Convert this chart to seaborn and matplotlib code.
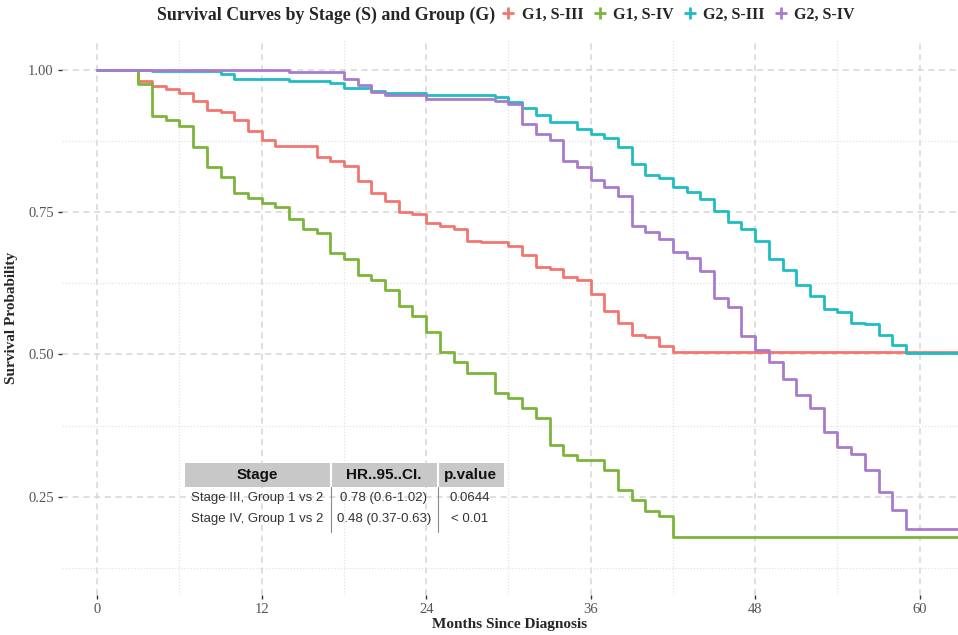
import pandas as pd
import matplotlib
matplotlib.use("Agg")
import matplotlib.pyplot as plt
import seaborn as sns
from matplotlib.lines import Line2D
from matplotlib.patches import Rectangle

# Kaplan-Meier step values (month of drop, survival after drop)
groups = ["G1, S-III", "G1, S-IV", "G2, S-III", "G2, S-IV"]
colors = ["#F3766E", "#7CB53A", "#1EBDC3", "#A97BCB"]

g1s3_time = [0, 3, 4, 5, 6, 7, 8, 9, 10, 11, 12, 13, 16, 17, 18, 19, 20, 21, 22, 23, 24,
             25, 26, 27, 28, 30, 31, 32, 33, 34, 35, 36, 37, 38, 39, 40, 41, 42, 63]
g1s3_surv = [1.0, 0.981, 0.972, 0.966, 0.960, 0.946, 0.930, 0.927, 0.912, 0.893, 0.877, 0.866,
             0.847, 0.841, 0.831, 0.805, 0.784, 0.770, 0.751, 0.747, 0.731, 0.726, 0.720, 0.699,
             0.697, 0.691, 0.675, 0.654, 0.650, 0.636, 0.631, 0.606, 0.576, 0.555, 0.535, 0.530,
             0.515, 0.505, 0.505]

g1s4_time = [0, 3, 4, 5, 6, 7, 8, 9, 10, 11, 12, 13, 14, 15, 16, 17, 18, 19, 20, 21, 22, 23,
             24, 25, 26, 27, 29, 30, 31, 32, 33, 34, 35, 37, 38, 39, 40, 41, 42, 63]
g1s4_surv = [1.0, 0.975, 0.919, 0.912, 0.902, 0.865, 0.830, 0.812, 0.784, 0.776, 0.767, 0.759,
             0.738, 0.721, 0.713, 0.678, 0.668, 0.640, 0.631, 0.613, 0.586, 0.568, 0.540, 0.504,
             0.486, 0.468, 0.432, 0.423, 0.405, 0.388, 0.341, 0.323, 0.315, 0.297, 0.261, 0.244,
             0.225, 0.216, 0.179, 0.179]

g2s3_time = [0, 4, 9, 10, 14, 17, 18, 20, 21, 24, 29, 30, 31, 32, 33, 35, 36, 37, 38, 39, 40,
             41, 42, 43, 44, 45, 46, 47, 48, 49, 50, 51, 52, 53, 54, 55, 56, 57, 58, 59, 63]
g2s3_surv = [1.0, 0.998, 0.994, 0.984, 0.981, 0.978, 0.969, 0.964, 0.960, 0.957, 0.953, 0.944,
             0.933, 0.921, 0.909, 0.896, 0.888, 0.880, 0.864, 0.835, 0.815, 0.811, 0.794, 0.786,
             0.773, 0.753, 0.733, 0.720, 0.700, 0.667, 0.649, 0.622, 0.602, 0.580, 0.574, 0.556,
             0.553, 0.534, 0.517, 0.502, 0.502]

g2s4_time = [0, 14, 18, 19, 20, 21, 24, 29, 30, 31, 32, 33, 34, 35, 36, 37, 38, 39, 40, 41,
             42, 43, 44, 45, 46, 47, 48, 49, 50, 51, 52, 53, 54, 55, 56, 57, 58, 59, 63]
g2s4_surv = [1.0, 0.996, 0.985, 0.974, 0.962, 0.956, 0.950, 0.946, 0.940, 0.906, 0.887, 0.877,
             0.841, 0.830, 0.807, 0.795, 0.778, 0.726, 0.715, 0.703, 0.681, 0.669, 0.647, 0.600,
             0.583, 0.532, 0.508, 0.486, 0.456, 0.428, 0.405, 0.364, 0.337, 0.325, 0.296, 0.258,
             0.227, 0.193, 0.193]

x_ticks = [0, 12, 24, 36, 48, 60]
x_minor = [6, 18, 30, 42, 54]
y_ticks = [0.25, 0.50, 0.75, 1.00]
y_minor = [0.125, 0.375, 0.625, 0.875]
y_ticklabels = ["0.25", "0.50", "0.75", "1.00"]

table_cols = ["Stage", "HR..95..CI.", "p.value"]
table_rows = [["Stage III, Group 1 vs 2", "0.78 (0.6-1.02)", "0.0644"],
              ["Stage IV, Group 1 vs 2", "0.48 (0.37-0.63)", "< 0.01"]]

frames = []
for g, t, s in zip(groups,
                   [g1s3_time, g1s4_time, g2s3_time, g2s4_time],
                   [g1s3_surv, g1s4_surv, g2s3_surv, g2s4_surv]):
    frames.append(pd.DataFrame({"time": t, "surv": s, "group": g}))
df = pd.concat(frames, ignore_index=True)

sns.set_theme(style="white")
plt.rcParams["font.family"] = ["Liberation Serif", "DejaVu Serif"]

W, H = 958, 635
fig = plt.figure(figsize=(W / 100, H / 100), dpi=100)


def fx(px):
    return px / W


def fy(py):
    return 1 - py / H


ax = fig.add_axes([fx(62), fy(595), 1 - fx(62), (595 - 40) / H])

sns.lineplot(data=df, x="time", y="surv", hue="group", hue_order=groups,
             palette=colors, drawstyle="steps-post", estimator=None, sort=False,
             linewidth=2.0, legend=False, ax=ax)

ax.set_xlim(-2.57, 62.8)
ax.set_ylim(0.077, 1.053)
ax.set_xticks(x_ticks)
ax.set_xticks(x_minor, minor=True)
ax.set_yticks(y_ticks)
ax.set_yticks(y_minor, minor=True)
ax.set_yticklabels(y_ticklabels)
ax.grid(which="major", linestyle=(0, (4, 3)), color="#d6d6d6", linewidth=1.1)
ax.grid(which="minor", linestyle=(0, (1, 1.5)), color="#e2e2e2", linewidth=0.9)
ax.set_axisbelow(True)
for sp in ax.spines.values():
    sp.set_visible(False)
ax.tick_params(which="major", length=3, width=1, color="#333333", direction="out",
               labelsize=10.5, labelcolor="#555555", pad=3, bottom=True, left=True)
ax.tick_params(which="minor", length=0)

ax.set_xlabel("Months Since Diagnosis", fontweight="bold", fontsize=11, labelpad=1)
ax.set_ylabel("Survival Probability", fontweight="bold", fontsize=11, labelpad=7)

# title + inline legend at the top
fig.text(fx(157), fy(15), "Survival Curves by Stage (S) and Group (G)",
         fontweight="bold", fontsize=12.9, ha="left", va="center")
handles = [Line2D([0], [0], color=c, marker="+", linestyle="none", markersize=9,
                  markeredgewidth=2) for c in colors]
fig.legend(handles, groups, loc="center left", bbox_to_anchor=(fx(500), fy(15)),
           ncol=4, frameon=False, handlelength=1.05, handletextpad=0.3,
           columnspacing=0.5, borderpad=0, borderaxespad=0,
           prop={"family": "Liberation Serif", "weight": "bold", "size": 11.5})

# HR table
tfont = ["Liberation Sans", "DejaVu Sans"]
col_x = [185, 331, 438, 504]
col_c = [257, 384, 470]
fig.add_artist(Rectangle((fx(185), fy(487)), (504 - 185) / W, 24 / H,
                         transform=fig.transFigure, facecolor="#c8c8c8",
                         edgecolor="none"))
for xs in col_x[1:3]:
    fig.add_artist(Line2D([fx(xs), fx(xs)], [fy(463), fy(487)],
                          transform=fig.transFigure, color="white", linewidth=1.5))
    fig.add_artist(Line2D([fx(xs), fx(xs)], [fy(487), fy(532)],
                          transform=fig.transFigure, color="#8a8a8a", linewidth=0.8))
for i, name in enumerate(table_cols):
    fig.text(fx(col_c[i]), fy(475), name, family=tfont, fontweight="bold",
             fontsize=11, ha="center", va="center", color="#111111")
for r, row in enumerate(table_rows):
    for i, val in enumerate(row):
        fig.text(fx(col_c[i]), fy(498 + 21 * r), val, family=tfont, fontsize=9.5,
                 ha="center", va="center", color="#333333")

fig.savefig("out.png", dpi=100)
